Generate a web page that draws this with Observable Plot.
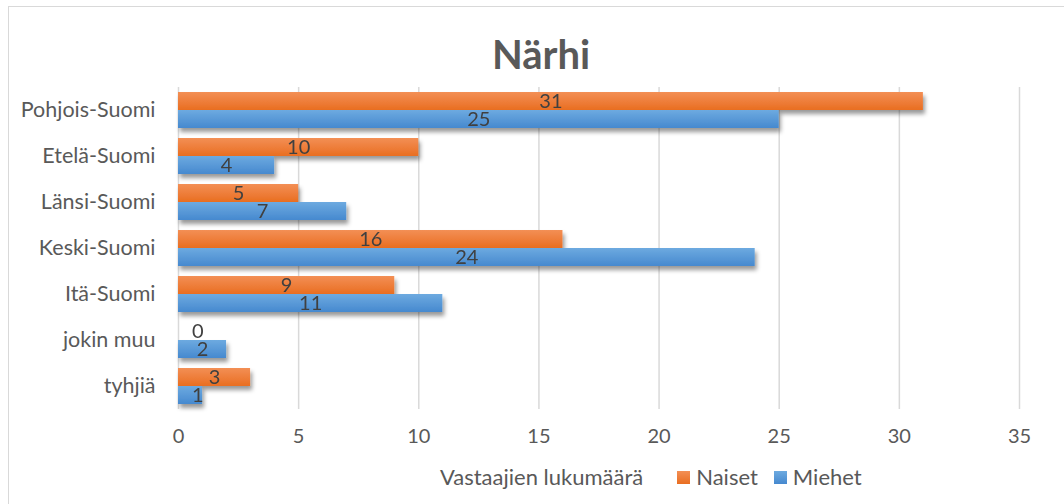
<!DOCTYPE html>
<html>
<head>
<meta charset="utf-8">
<script src="https://cdn.jsdelivr.net/npm/d3@7"></script>
<script src="https://cdn.jsdelivr.net/npm/@observablehq/plot@0.6"></script>
<style>
  html, body { margin: 0; padding: 0; background: #fff; }
  #wrap { position: relative; width: 1064px; height: 504px; overflow: hidden; font-family: Lato, "Open Sans", sans-serif; color: #595959; }
  #frame { position: absolute; left: 8px; top: 6px; width: 1070px; height: 520px; border-left: 1.5px solid #d9d9d9; border-top: 1.5px solid #d9d9d9; box-sizing: border-box; }
  #title { position: absolute; left: 0; width: 1082px; top: 31px; text-align: center; font-size: 40px; font-weight: bold; color: #595959; line-height: 46px; }
  #chart { position: absolute; left: 0; top: 0; }
  #legend { position: absolute; left: 440px; top: 463px; font-size: 22px; color: #595959; display: flex; align-items: center; white-space: nowrap; line-height: 28px; }
  .sw { display: inline-block; width: 13px; height: 13px; margin-right: 6px; }
  #chart svg g[aria-label="fy-axis tick label"] text, #chart svg g[aria-label="fy-axis"] text { font-size: 21.5px; }
</style>
</head>
<body>
<svg width="0" height="0" style="position:absolute">
  <defs>
    <linearGradient id="gO" x1="0" y1="0" x2="0" y2="1">
      <stop offset="0" stop-color="#F38F55"/>
      <stop offset="1" stop-color="#E96E21"/>
    </linearGradient>
    <linearGradient id="gB" x1="0" y1="0" x2="0" y2="1">
      <stop offset="0" stop-color="#6DAAE0"/>
      <stop offset="1" stop-color="#4689CF"/>
    </linearGradient>
    <filter id="sh" x="-5%" y="-30%" width="115%" height="190%">
      <feDropShadow dx="2" dy="4" stdDeviation="2.2" flood-color="#000" flood-opacity="0.4"/>
    </filter>
  </defs>
</svg>
<div id="wrap">
  <div id="frame"></div>
  <div id="chart"></div>
  <div id="title">Närhi</div>
  <div id="legend">
    <span id="axisTitle"></span>
    <span style="display:inline-block;width:34px"></span>
    <span class="sw" style="background:linear-gradient(#F38F55,#E96E21)"></span><span id="l0"></span>
    <span style="display:inline-block;width:16px"></span>
    <span class="sw" style="background:linear-gradient(#6DAAE0,#4689CF)"></span><span id="l1"></span>
  </div>
</div>
<script>
const categories = ["Pohjois-Suomi", "Etelä-Suomi", "Länsi-Suomi", "Keski-Suomi", "Itä-Suomi", "jokin muu", "tyhjiä"];
const naiset = [31, 10, 5, 16, 9, 0, 3];
const miehet = [25, 4, 7, 24, 11, 2, 1];
const seriesNames = ["Naiset", "Miehet"];
const xTicks = [0, 5, 10, 15, 20, 25, 30, 35];
const axisTitle = "Vastaajien lukumäärä";

document.getElementById("axisTitle").textContent = axisTitle;
document.getElementById("l0").textContent = seriesNames[0];
document.getElementById("l1").textContent = seriesNames[1];

const rows = categories.flatMap((c, i) => [
  {cat: c, s: seriesNames[0], v: naiset[i]},
  {cat: c, s: seriesNames[1], v: miehet[i]}
]);

const chart = Plot.plot({
  width: 1064,
  height: 450,
  marginLeft: 178,
  marginRight: 45,
  marginTop: 87,
  marginBottom: 41,
  style: {fontSize: "20px", fontFamily: "Lato, 'Open Sans', sans-serif", color: "#595959", background: "transparent"},
  x: {domain: [0, 35], ticks: xTicks, tickSize: 0, tickPadding: 19, label: null},
  fy: {domain: categories, padding: 0, axis: "left", tickSize: 0, tickPadding: 23, label: null},
  y: {domain: seriesNames, axis: null, paddingInner: 0, paddingOuter: 0.24},
  marks: [
    Plot.ruleX(xTicks, {stroke: "#d9d9d9", strokeWidth: 1.5}),
    Plot.barX(rows.filter(d => d.s === seriesNames[0]), {x: "v", y: "s", fy: "cat", fill: "url(#gO)"}),
    Plot.barX(rows.filter(d => d.s === seriesNames[1]), {x: "v", y: "s", fy: "cat", fill: "url(#gB)"}),
    Plot.text(rows, {x: d => Math.max(d.v / 2, 0.8), y: "s", fy: "cat", text: d => String(d.v), fill: "#404040", fontSize: 20})
  ]
});
chart.querySelectorAll('g[aria-label="bar"]').forEach(g => g.setAttribute("filter", "url(#sh)"));
chart.querySelectorAll('g[aria-label="fy-axis tick label"] text, g[aria-label="fy-axis"] text').forEach(t => t.setAttribute("font-size", "21.5"));
document.getElementById("chart").appendChild(chart);
</script>
</body>
</html>
